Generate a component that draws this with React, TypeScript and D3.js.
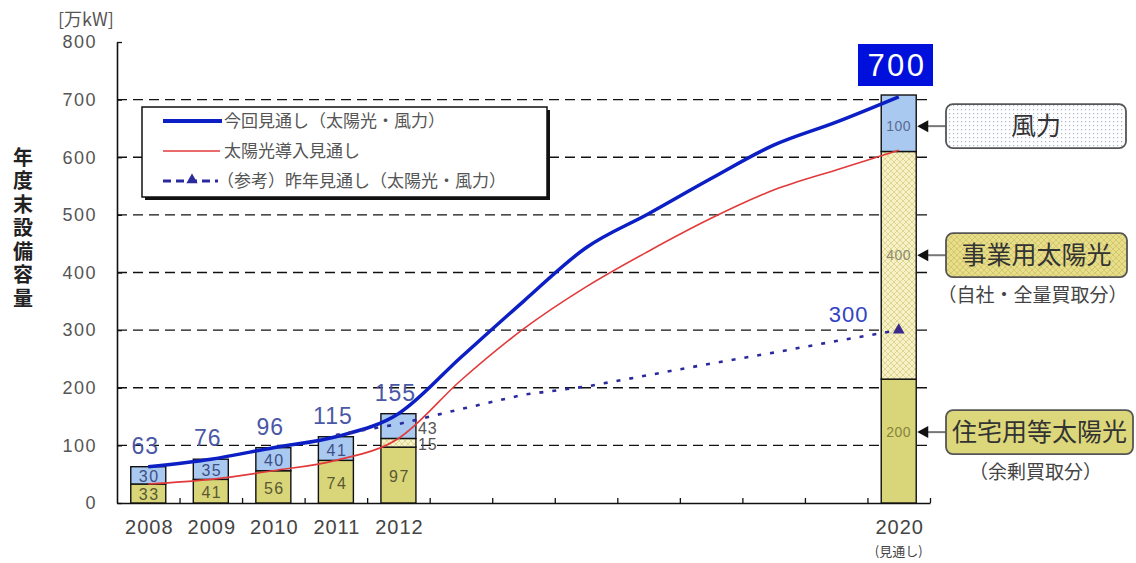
import React, { useEffect, useRef } from "react";
import * as d3 from "d3";

// ---- data ----
const years = [2008, 2009, 2010, 2011, 2012];
const residentialSolar = [33, 41, 56, 74, 97];
const businessSolar = [0, 0, 0, 0, 15];
const wind = [30, 35, 40, 41, 43];
const totals = [63, 76, 96, 115, 155];

const forecastYear = 2020;
const forecastSegments = [215, 395, 98]; // residential, business, wind (as drawn)
const forecastLabels = ["200", "400", "100"];
const forecastTotal = "700";

const lineYears = [2008, 2009, 2010, 2011, 2012, 2013, 2014, 2015, 2016, 2017, 2018, 2019, 2020];
const currentOutlook = [63, 76, 96, 115, 155, 253, 350, 443, 502, 563, 621, 661, 705];
const solarOutlook = [33, 41, 56, 74, 112, 213, 302, 375, 437, 494, 543, 578, 612];
const prevYears = [2011, 2012, 2013, 2014, 2015, 2016, 2017, 2018, 2019, 2020];
const prevOutlook = [118, 137, 163, 188, 202, 222, 242, 261, 281, 300];
const prevEndLabel = "300";

const yTicks = [0, 100, 200, 300, 400, 500, 600, 700, 800];
const gridValues = [100, 200, 300, 400, 500, 600, 700];
const xBoundaries = [2008.5, 2009.5, 2010.5, 2011.5, 2012.5, 2013.5, 2014.5, 2015.5, 2016.5, 2017.5, 2018.5, 2019.5, 2020.5];

const legendLabels = ["今回見通し（太陽光・風力）", "太陽光導入見通し", "（参考）昨年見通し（太陽光・風力）"];
const calloutLabels = ["風力", "事業用太陽光", "住宅用等太陽光"];
const calloutSubs = ["", "（自社・全量買取分）", "（余剰買取分）"];
const calloutAnchors = [654, 430, 123];
const yTitle = "年度末設備容量";
const unitLabel = "[万kW]";

const C_RES = "#d9d67a";
const C_BUS = "#f6f1c6";
const C_WIND = "#a9c9f0";
const C_BLUE = "#0c1fc4";
const C_RED = "#e23a3a";
const C_PREV = "#2a2a9e";
const NUM = "'Liberation Sans', Arial, sans-serif";
const JP = "'Noto Sans CJK JP', sans-serif";

export default function App() {
  const ref = useRef<SVGSVGElement | null>(null);

  useEffect(() => {
    const svg = d3.select(ref.current);
    svg.selectAll("*").remove();

    const x = d3.scaleLinear().domain([2007.5, 2020.5]).range([117, 930]);
    const y = d3.scaleLinear().domain([0, 800]).range([503, 42]);
    const barW = 35;

    const defs = svg.append("defs");
    const hatch = defs.append("pattern").attr("id", "hatch").attr("patternUnits", "userSpaceOnUse")
      .attr("width", 6).attr("height", 6);
    hatch.append("rect").attr("width", 6).attr("height", 6).attr("fill", C_BUS);
    hatch.append("path").attr("d", "M0,0L6,6M6,0L0,6").attr("stroke", "#d9cf85").attr("stroke-width", 0.8);
    const hatch2 = defs.append("pattern").attr("id", "hatch2").attr("patternUnits", "userSpaceOnUse")
      .attr("width", 6).attr("height", 6);
    hatch2.append("rect").attr("width", 6).attr("height", 6).attr("fill", "#e6de88");
    hatch2.append("path").attr("d", "M0,0L6,6M6,0L0,6").attr("stroke", "#cfc26a").attr("stroke-width", 0.8);
    const dots = defs.append("pattern").attr("id", "dots").attr("patternUnits", "userSpaceOnUse")
      .attr("width", 4).attr("height", 4);
    dots.append("rect").attr("width", 4).attr("height", 4).attr("fill", "#ffffff");
    dots.append("rect").attr("x", 1).attr("y", 1).attr("width", 1.2).attr("height", 1.2).attr("fill", "#a9b6cc");

    // grid
    svg.append("g").selectAll("line").data(gridValues).join("line")
      .attr("x1", 117).attr("x2", 930).attr("y1", (d) => y(d)).attr("y2", (d) => y(d))
      .attr("stroke", "#111").attr("stroke-width", 1.3).attr("stroke-dasharray", "10,6");

    // axes
    const yAxis = svg.append("g").attr("transform", "translate(117,0)")
      .call(d3.axisLeft(y).tickValues(yTicks).tickSize(-5).tickSizeOuter(0).tickPadding(20));
    yAxis.select(".domain").attr("stroke", "#111").attr("stroke-width", 1.6);
    yAxis.selectAll(".tick line").attr("stroke", "#111").attr("stroke-width", 1.3);
    yAxis.selectAll(".tick text").attr("font-family", NUM).attr("font-size", 18).attr("letter-spacing", 1.5)
      .attr("fill", "#555");

    const xAxis = svg.append("g").attr("transform", "translate(0,503)")
      .call(d3.axisBottom(x).tickValues(xBoundaries).tickSize(-5).tickSizeOuter(0).tickFormat(() => ""));
    xAxis.select(".domain").attr("stroke", "#111").attr("stroke-width", 1.6);
    xAxis.selectAll(".tick line").attr("stroke", "#111").attr("stroke-width", 1.3);

    // year labels
    svg.append("g").selectAll("text").data([...years, forecastYear]).join("text")
      .attr("x", (d) => x(d) + 1).attr("y", 534).attr("text-anchor", "middle")
      .attr("font-family", NUM).attr("font-size", 20).attr("letter-spacing", 1).attr("fill", "#444")
      .text((d) => String(d));
    svg.append("text").attr("x", x(forecastYear)).attr("y", 556).attr("text-anchor", "middle")
      .attr("font-family", JP).attr("font-size", 13).attr("fill", "#444").text("(見通し)");

    // unit & y title
    svg.append("text").attr("x", 86).attr("y", 26).attr("text-anchor", "middle")
      .attr("font-family", JP).attr("font-size", 18).attr("fill", "#555").text(unitLabel);
    svg.append("text").attr("x", 23).attr("y", 147)
      .attr("style", "writing-mode: vertical-rl; text-orientation: upright;")
      .attr("letter-spacing", 3.5)
      .attr("font-family", JP).attr("font-size", 20).attr("font-weight", "bold").attr("fill", "#222")
      .text(yTitle);

    // historical bars
    const barG = svg.append("g");
    years.forEach((yr, i) => {
      const x0 = x(yr) - barW / 2;
      const segs = [
        { v0: 0, v1: residentialSolar[i], fill: C_RES },
        { v0: residentialSolar[i], v1: residentialSolar[i] + businessSolar[i], fill: "url(#hatch)" },
        { v0: residentialSolar[i] + businessSolar[i], v1: residentialSolar[i] + businessSolar[i] + wind[i], fill: C_WIND },
      ];
      segs.forEach((s) => {
        if (s.v1 - s.v0 <= 0) return;
        barG.append("rect").attr("x", x0).attr("y", y(s.v1)).attr("width", barW)
          .attr("height", y(s.v0) - y(s.v1)).attr("fill", s.fill).attr("stroke", "#111").attr("stroke-width", 1.4);
      });
    });

    // 2020 bar
    let acc = 0;
    const fFills = [C_RES, "url(#hatch)", C_WIND];
    forecastSegments.forEach((v, i) => {
      barG.append("rect").attr("x", x(forecastYear) - barW / 2).attr("y", y(acc + v)).attr("width", barW)
        .attr("height", y(acc) - y(acc + v)).attr("fill", fFills[i]).attr("stroke", "#111").attr("stroke-width", 1.4);
      acc += v;
    });

    // bar value labels
    const lab = svg.append("g").attr("font-family", NUM).attr("text-anchor", "middle");
    years.forEach((yr, i) => {
      const cx = x(yr);
      lab.append("text").attr("x", cx + 1).attr("y", y(residentialSolar[i] / 2) + 7)
        .attr("font-size", 16).attr("letter-spacing", 1.5).attr("fill", "#5a5832").text(String(residentialSolar[i]));
      const wBase = residentialSolar[i] + businessSolar[i];
      if (businessSolar[i] > 0) {
        lab.append("text").attr("x", cx + barW / 2 + 2).attr("y", y(wBase - businessSolar[i] / 2) + 7)
          .attr("text-anchor", "start").attr("font-size", 16).attr("letter-spacing", 1).attr("fill", "#555")
          .text(String(businessSolar[i]));
        lab.append("text").attr("x", cx + barW / 2 + 2).attr("y", y(wBase + wind[i] / 2) + 8)
          .attr("text-anchor", "start").attr("font-size", 16).attr("letter-spacing", 1).attr("fill", "#555")
          .text(String(wind[i]));
      } else {
        lab.append("text").attr("x", cx + 1).attr("y", y(wBase + wind[i] / 2) + 7)
          .attr("font-size", 16).attr("letter-spacing", 1.5).attr("fill", "#3f4e86").text(String(wind[i]));
      }
      lab.append("text").attr("x", cx - 3).attr("y", y(totals[i]) - 13)
        .attr("font-size", 23).attr("letter-spacing", 1).attr("fill", "#4a58a6").text(String(totals[i]));
    });

    // lines
    const blueLine = d3.line<number>().x((_d, i) => x(lineYears[i])).y((d) => y(d)).curve(d3.curveMonotoneX);
    svg.append("path").attr("d", blueLine(currentOutlook)).attr("fill", "none")
      .attr("stroke", C_BLUE).attr("stroke-width", 3.5);
    svg.append("path").attr("d", blueLine(solarOutlook)).attr("fill", "none")
      .attr("stroke", C_RED).attr("stroke-width", 1.6);
    const prevLine = d3.line<number>().x((_d, i) => x(prevYears[i])).y((d) => y(d));
    svg.append("path").attr("d", prevLine(prevOutlook)).attr("fill", "none")
      .attr("stroke", C_PREV).attr("stroke-width", 2.6).attr("stroke-dasharray", "4,9");
    const triX = x(prevYears[prevYears.length - 1]);
    const triY = y(prevOutlook[prevOutlook.length - 1]);
    svg.append("path").attr("d", d3.symbol(d3.symbolTriangle, 60)()).attr("transform", `translate(${triX},${triY})`)
      .attr("fill", "#3a2a8c");
    svg.append("text").attr("x", triX - 50).attr("y", triY - 8).attr("text-anchor", "middle")
      .attr("font-family", NUM).attr("font-size", 22).attr("letter-spacing", 1).attr("fill", "#3242c4")
      .text(prevEndLabel);

    // 2020 labels in bar
    const fColors = ["#85833c", "#8c8a70", "#5b6b90"];
    forecastSegments.forEach((_v, i) => {
      const yy = y(calloutAnchors[2 - i]);
      svg.append("text").attr("x", x(forecastYear)).attr("y", yy + 5).attr("text-anchor", "middle")
        .attr("font-family", NUM).attr("font-size", 14).attr("letter-spacing", 0.5).attr("fill", fColors[i])
        .text(forecastLabels[i]);
    });

    // 700 box
    svg.append("rect").attr("x", 858).attr("y", 44).attr("width", 75).attr("height", 42).attr("fill", "#0010dc");
    svg.append("text").attr("x", 897).attr("y", 76).attr("text-anchor", "middle")
      .attr("font-family", NUM).attr("font-size", 31).attr("letter-spacing", 2.5).attr("fill", "#fff")
      .text(forecastTotal);

    // callouts
    const boxFills = ["url(#dots)", "url(#hatch2)", "#dcd77a"];
    const boxW = [180, 181, 187];
    calloutLabels.forEach((t, i) => {
      const ay = y(calloutAnchors[i]);
      const bx = 946;
      svg.append("line").attr("x1", x(forecastYear) + barW / 2 + 8).attr("x2", bx).attr("y1", ay).attr("y2", ay)
        .attr("stroke", "#777").attr("stroke-width", 2);
      const tipX = x(forecastYear) + barW / 2 + 1;
      svg.append("path").attr("d", `M${tipX},${ay}L${tipX + 11},${ay - 6}L${tipX + 11},${ay + 6}Z`).attr("fill", "#111");
      svg.append("rect").attr("x", bx).attr("y", ay - 22).attr("width", boxW[i]).attr("height", 44)
        .attr("rx", 7).attr("fill", boxFills[i]).attr("stroke", "#555").attr("stroke-width", 1.8);
      svg.append("text").attr("x", bx + boxW[i] / 2).attr("y", ay + 9).attr("text-anchor", "middle")
        .attr("font-family", JP).attr("font-size", 25).attr("fill", "#333").text(t);
      if (calloutSubs[i]) {
        svg.append("text").attr("x", bx + boxW[i] / 2 - 4).attr("y", ay + 47).attr("text-anchor", "middle")
          .attr("font-family", JP).attr("font-size", 19).attr("fill", "#444").text(calloutSubs[i]);
      }
    });

    // legend
    const lg = svg.append("g");
    lg.append("rect").attr("x", 145).attr("y", 110).attr("width", 405).attr("height", 90).attr("fill", "#111");
    lg.append("rect").attr("x", 142).attr("y", 107).attr("width", 405).attr("height", 90)
      .attr("fill", "#fff").attr("stroke", "#111").attr("stroke-width", 1.5);
    const ly = [121, 151, 181];
    lg.append("line").attr("x1", 163).attr("x2", 222).attr("y1", ly[0]).attr("y2", ly[0])
      .attr("stroke", C_BLUE).attr("stroke-width", 4);
    lg.append("line").attr("x1", 163).attr("x2", 220).attr("y1", ly[1]).attr("y2", ly[1])
      .attr("stroke", C_RED).attr("stroke-width", 1.5);
    lg.append("line").attr("x1", 163).attr("x2", 218).attr("y1", ly[2]).attr("y2", ly[2])
      .attr("stroke", C_PREV).attr("stroke-width", 3).attr("stroke-dasharray", "8,5");
    lg.append("path").attr("d", d3.symbol(d3.symbolTriangle, 55)()).attr("transform", `translate(192,${ly[2] - 1})`)
      .attr("fill", C_PREV);
    legendLabels.forEach((t, i) => {
      lg.append("text").attr("x", i === 2 ? 217 : 224).attr("y", ly[i] + 6)
        .attr("font-family", JP).attr("font-size", 17).attr("fill", "#555").text(t);
    });
  }, []);

  return (
    <svg ref={ref} width={1136} height={563}
      style={{ position: "absolute", left: 0, top: 0, background: "#fff" }} />
  );
}
